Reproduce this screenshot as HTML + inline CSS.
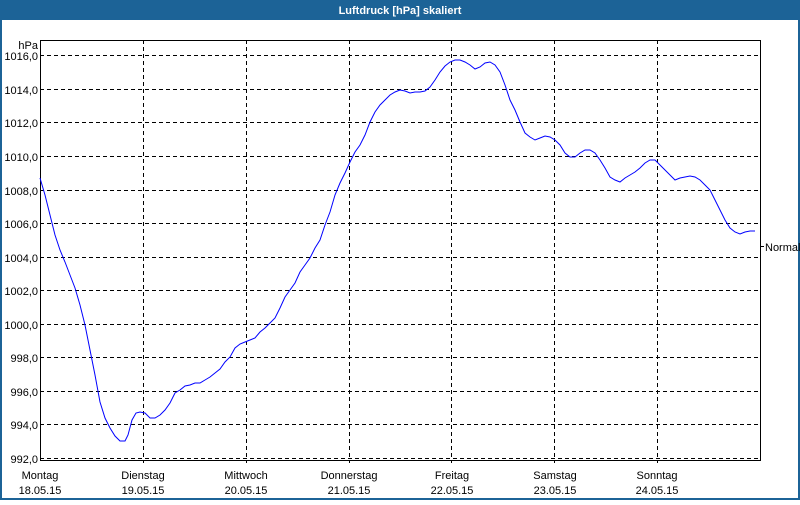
<!DOCTYPE html><html><head><style>
body{margin:0;width:800px;height:500px;overflow:hidden;background:#fff;font-family:"Liberation Sans",sans-serif}
</style></head><body>
<svg width="800" height="500" xmlns="http://www.w3.org/2000/svg" font-family="Liberation Sans, sans-serif" font-size="11">
<rect x="0" y="0" width="800" height="500" fill="#fff"/>
<rect x="0" y="0" width="800" height="20" fill="#1c6397"/>
<rect x="0" y="0" width="2" height="500" fill="#1c6397"/>
<rect x="798" y="0" width="2" height="500" fill="#1c6397"/>
<rect x="0" y="498" width="800" height="2" fill="#1c6397"/>
<text x="400" y="14" fill="#fff" font-weight="bold" text-anchor="middle">Luftdruck [hPa] skaliert</text>
<g stroke="#000" stroke-dasharray="4,3" stroke-width="1">
<line x1="40" x2="760" y1="55.5" y2="55.5"/><line x1="40" x2="760" y1="89.5" y2="89.5"/><line x1="40" x2="760" y1="122.5" y2="122.5"/><line x1="40" x2="760" y1="156.5" y2="156.5"/><line x1="40" x2="760" y1="190.5" y2="190.5"/><line x1="40" x2="760" y1="223.5" y2="223.5"/><line x1="40" x2="760" y1="257.5" y2="257.5"/><line x1="40" x2="760" y1="290.5" y2="290.5"/><line x1="40" x2="760" y1="324.5" y2="324.5"/><line x1="40" x2="760" y1="357.5" y2="357.5"/><line x1="40" x2="760" y1="391.5" y2="391.5"/><line x1="40" x2="760" y1="424.5" y2="424.5"/><line x1="40" x2="760" y1="458.5" y2="458.5"/>
<line x1="143.5" x2="143.5" y1="40" y2="463"/><line x1="246.5" x2="246.5" y1="40" y2="463"/><line x1="349.5" x2="349.5" y1="40" y2="463"/><line x1="451.5" x2="451.5" y1="40" y2="463"/><line x1="554.5" x2="554.5" y1="40" y2="463"/><line x1="657.5" x2="657.5" y1="40" y2="463"/>
</g>
<rect x="40.5" y="40.5" width="720" height="420" fill="none" stroke="#000"/>
<line x1="760" x2="764" y1="246.5" y2="246.5" stroke="#000"/>
<text x="765" y="251">Normal</text>
<g text-anchor="end">
<text x="38" y="49">hPa</text>
<text x="38" y="60">1016,0</text><text x="38" y="94">1014,0</text><text x="38" y="127">1012,0</text><text x="38" y="161">1010,0</text><text x="38" y="195">1008,0</text><text x="38" y="228">1006,0</text><text x="38" y="262">1004,0</text><text x="38" y="295">1002,0</text><text x="38" y="329">1000,0</text><text x="38" y="362">998,0</text><text x="38" y="396">996,0</text><text x="38" y="429">994,0</text><text x="38" y="463">992,0</text>
</g>
<g text-anchor="middle">
<text x="40" y="479">Montag</text><text x="40" y="494">18.05.15</text>
<text x="143" y="479">Dienstag</text><text x="143" y="494">19.05.15</text>
<text x="246" y="479">Mittwoch</text><text x="246" y="494">20.05.15</text>
<text x="349" y="479">Donnerstag</text><text x="349" y="494">21.05.15</text>
<text x="452" y="479">Freitag</text><text x="452" y="494">22.05.15</text>
<text x="555" y="479">Samstag</text><text x="555" y="494">23.05.15</text>
<text x="657" y="479">Sonntag</text><text x="657" y="494">24.05.15</text>
</g>
<polyline fill="none" stroke="#0000ff" stroke-width="1" points="40,178 45,195 50,215 55,235 60,250 65,262 70,275 75,288 80,305 85,325 90,350 95,375 100,402 105,418 110,428 115,436 120,441 125,441 128,435 132,420 136,413 140,412 145,413 150,418 155,418 160,415 165,410 170,403 175,393 180,390 185,386 190,385 195,383 200,383 205,380 210,377 215,373 220,369 225,362 230,357 235,348 240,344 245,342 250,340 255,338 260,332 265,328 270,323 275,318 280,308 285,297 290,290 295,283 300,272 305,265 310,258 315,248 320,240 325,225 330,212 335,195 340,183 345,173 350,162 355,152 360,145 365,135 370,122 375,112 380,105 385,100 390,95 395,92 400,90 405,91 410,93 415,92 420,92 425,91 430,87 435,80 440,72 445,66 450,62 455,60 460,60 465,62 470,65 475,69 480,67 485,63 490,62 495,65 500,72 505,85 510,100 515,110 520,122 525,133 530,137 535,140 540,138 545,136 550,137 555,140 560,145 565,153 570,157 575,157 580,153 585,150 590,150 595,153 600,160 605,168 610,177 615,180 620,182 625,178 630,175 635,172 640,168 645,163 650,160 655,160 660,165 665,170 670,175 675,180 680,178 685,177 690,176 695,177 700,180 705,185 710,190 715,200 720,210 725,220 730,228 735,232 740,234 745,232 750,231 755,231"/>
</svg>
</body></html>
